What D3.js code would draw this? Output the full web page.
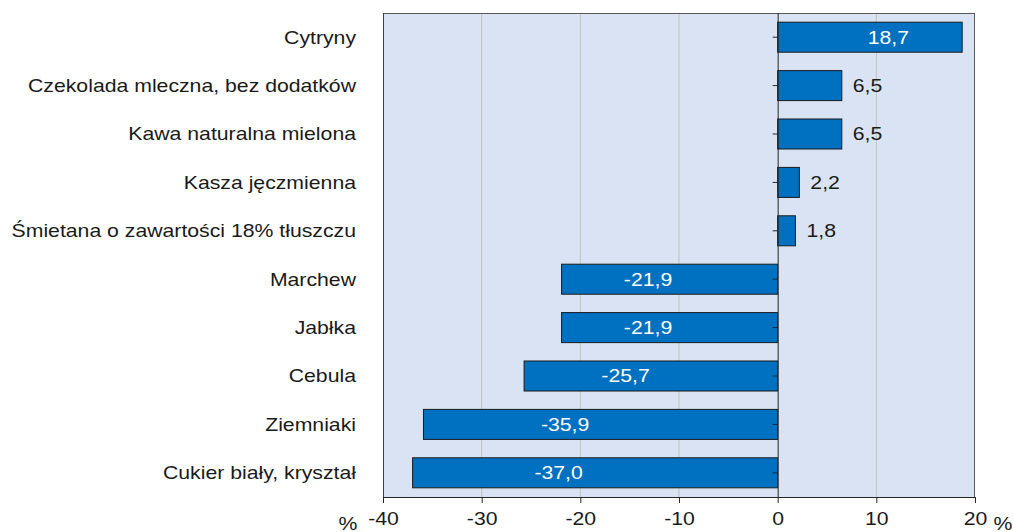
<!DOCTYPE html>
<html>
<head>
<meta charset="utf-8">
<script src="https://cdn.jsdelivr.net/npm/d3@7"></script>
<style>
  body { margin: 0; background: #fff; }
  svg { display: block; font-family: "Liberation Sans", Arial, sans-serif; }
</style>
</head>
<body>
<div id="chart"></div>
<script>
// dane z wykresu
const categories = [
    "Cytryny",
    "Czekolada mleczna, bez dodatków",
    "Kawa naturalna mielona",
    "Kasza jęczmienna",
    "Śmietana o zawartości 18% tłuszczu",
    "Marchew",
    "Jabłka",
    "Cebula",
    "Ziemniaki",
    "Cukier biały, kryształ"
];
const values = [18.7, 6.5, 6.5, 2.2, 1.8, -21.9, -21.9, -25.7, -35.9, -37.0];
const xTicks = [-40, -30, -20, -10, 0, 10, 20];

const width = 1013, height = 532;
const margin = { top: 13, right: 38, bottom: 35, left: 383 };
const innerW = width - margin.left - margin.right;
const innerH = height - margin.top - margin.bottom;
const fontSize = "18px";
const stretch = "scale(1.18,1)";   // tekst w oryginale jest szerszy

const svg = d3.select("#chart").append("svg")
    .attr("width", width)
    .attr("height", height);

const g = svg.append("g")
    .attr("transform", `translate(${margin.left},${margin.top})`);

const x = d3.scaleLinear().domain([-40, 20]).range([0, innerW]);
const y = d3.scaleBand().domain(categories).range([0, innerH]).paddingInner(0.38).paddingOuter(0.19);

// tło
g.append("rect")
    .attr("width", innerW)
    .attr("height", innerH)
    .attr("fill", "#dae3f3");

// linie siatki
g.selectAll(".grid")
    .data(xTicks.filter(t => t !== 0 && t !== -40 && t !== 20))
    .join("line")
    .attr("x1", d => x(d)).attr("x2", d => x(d))
    .attr("y1", 0).attr("y2", innerH)
    .attr("stroke", "#c0c0c0")
    .attr("stroke-width", 1);

// ramka
g.append("line").attr("x1", 0).attr("x2", innerW).attr("y1", 0.5).attr("y2", 0.5)
    .attr("stroke", "#595959");
g.append("line").attr("x1", innerW - 0.5).attr("x2", innerW - 0.5).attr("y1", 0).attr("y2", innerH)
    .attr("stroke", "#595959");
g.append("line").attr("x1", 0.5).attr("x2", 0.5).attr("y1", 0).attr("y2", innerH)
    .attr("stroke", "#404040");

// słupki
g.selectAll(".bar")
    .data(values)
    .join("rect")
    .attr("class", "bar")
    .attr("x", d => x(Math.min(0, d)))
    .attr("y", (d, i) => y(categories[i]))
    .attr("width", d => Math.abs(x(d) - x(0)))
    .attr("height", y.bandwidth())
    .attr("fill", "#0070c0")
    .attr("stroke", "#1a1a1a")
    .attr("stroke-width", 1);

// etykiety wartości
const fmt = v => v.toFixed(1).replace(".", ",");
g.selectAll(".lbl")
    .data(values)
    .join("g")
    .attr("class", "lbl")
    .attr("transform", (d, i) => {
        const lx = Math.abs(d) < 10 ? x(d) + 11 : x(d * 0.6);
        return `translate(${lx},${y(categories[i]) + y.bandwidth() / 2})`;
    })
    .append("text")
    .attr("transform", stretch)
    .attr("dy", "0.36em")
    .attr("text-anchor", d => Math.abs(d) < 10 ? "start" : "middle")
    .attr("fill", d => Math.abs(d) < 10 ? "#1a1a1a" : "#ffffff")
    .style("font-size", fontSize)
    .text(fmt);

// oś pionowa w zerze
const yAxis = g.append("g")
    .attr("transform", `translate(${x(0)},0)`)
    .call(d3.axisLeft(y).tickSize(5).tickFormat(""));
yAxis.select(".domain").attr("stroke", "#262626").attr("d", `M0.5,0V${innerH}`);
yAxis.selectAll(".tick line").attr("stroke", "#262626");

// etykiety kategorii
g.selectAll(".cat")
    .data(categories)
    .join("g")
    .attr("class", "cat")
    .attr("transform", d => `translate(-27,${y(d) + y.bandwidth() / 2})`)
    .append("text")
    .attr("transform", stretch)
    .attr("dy", "0.36em")
    .attr("text-anchor", "end")
    .attr("fill", "#1a1a1a")
    .style("font-size", fontSize)
    .text(d => d);

// oś pozioma
const xAxis = g.append("g")
    .attr("transform", `translate(0,${innerH})`)
    .call(d3.axisBottom(x).tickValues(xTicks).tickSize(6).tickPadding(9).tickFormat(d => String(d)));
xAxis.select(".domain").attr("stroke", "#262626");
xAxis.selectAll(".tick line").attr("stroke", "#262626");
xAxis.selectAll(".tick text")
    .attr("transform", stretch)
    .attr("fill", "#1a1a1a")
    .style("font-size", fontSize)
    .style("font-family", "Liberation Sans, Arial, sans-serif");

// jednostki
[-35, innerW + 28].forEach(px => {
    g.append("g")
        .attr("transform", `translate(${px},${innerH + 33})`)
        .append("text")
        .attr("transform", stretch)
        .attr("text-anchor", "middle")
        .attr("fill", "#1a1a1a")
        .style("font-size", fontSize)
        .text("%");
});
</script>
</body>
</html>
